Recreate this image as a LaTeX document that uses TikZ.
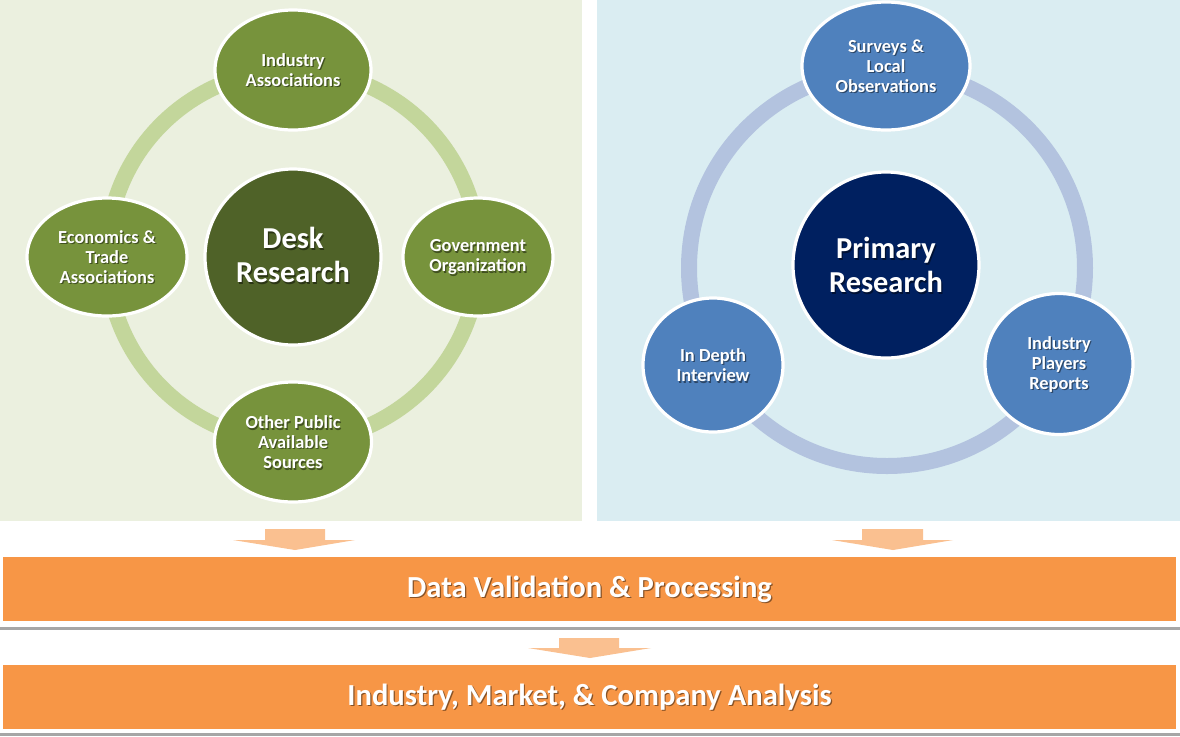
\documentclass[tikz,border=0pt]{standalone}
\usepackage{fontspec}
\setmainfont{Carlito}
\usetikzlibrary{shapes.geometric}
\definecolor{lgbg}{HTML}{EBF0DF}
\definecolor{lbbg}{HTML}{DAEDF2}
\definecolor{gring}{HTML}{C3D69B}
\definecolor{gnode}{HTML}{77933C}
\definecolor{gcenter}{HTML}{4F6228}
\definecolor{bring}{HTML}{B3C3DF}
\definecolor{bnode}{HTML}{4F81BD}
\definecolor{bcenter}{HTML}{002060}
\definecolor{barorange}{HTML}{F79646}
\definecolor{arrorange}{HTML}{FAC090}
\newcommand\shtxt[3]{%
  \node[txt,#3,text=black,opacity=.45] at ([shift={(1.2,1.6)}]#1) {#2};%
  \node[txt,#3] at (#1) {#2};}
\tikzset{
  blob/.style={ellipse, draw=white, line width=1.6pt, inner sep=0pt},
  gsat/.style={blob, fill=gnode},
  bsat/.style={blob, fill=bnode},
  txt/.style={text=white, align=center, font=\bfseries\fontsize{9.2}{10}\selectfont},
  bigtxt/.style={font=\bfseries\fontsize{15.2}{17}\selectfont},
  bartxt/.style={font=\bfseries\fontsize{15.3}{17}\selectfont},
  ring/.style={line width=8pt},
  bar/.style={rectangle, fill=barorange, minimum width=586.5pt, minimum height=32pt, inner sep=0pt},
  blockarrow/.style={fill=arrorange}
}
\begin{document}
\begin{tikzpicture}[x=0.5pt,y=-0.5pt]
\useasboundingbox (0,0) rectangle (1180,736);
\fill[white] (0,0) rectangle (1180,736);
% panels
\fill[lgbg] (0,0) rectangle (582,521);
\fill[lbbg] (597,0) rectangle (1180,521);
% rings
\coordinate (dc) at (293,256);
\coordinate (pc) at (887,268);
\draw[gring, ring] (dc) circle [radius=93pt];
\draw[bring, ring] (pc) circle [radius=99pt];
% desk research nodes
\node[blob, fill=gcenter, minimum width=88pt, minimum height=88pt] (desk) at (293,257) {};
\node[gsat, minimum width=78pt, minimum height=60pt] (dtop) at (293,70) {};
\node[gsat, minimum width=80pt, minimum height=59pt] (dleft) at (107,257) {};
\node[gsat, minimum width=75pt, minimum height=59pt] (dright) at (478,257) {};
\node[gsat, minimum width=78.5pt, minimum height=60pt] (dbot) at (293,442) {};
\shtxt{desk}{Desk\\Research}{bigtxt,yshift=1pt}
\shtxt{dtop}{Industry\\Associations}{}
\shtxt{dleft}{Economics \&\\Trade\\Associations}{}
\shtxt{dright}{Government\\Organization}{}
\shtxt{dbot}{Other Public\\Available\\Sources}{}
% primary research nodes
\node[blob, fill=bcenter, minimum width=93pt, minimum height=93pt] (prim) at (886,265) {};
\node[bsat, minimum width=84pt, minimum height=64pt] (ptop) at (886,66) {};
\node[bsat, minimum width=70pt, minimum height=67pt] (pleft) at (713,365) {};
\node[bsat, minimum width=74pt, minimum height=70.5pt] (pright) at (1059,364) {};
\shtxt{prim}{Primary\\Research}{bigtxt}
\shtxt{ptop}{Surveys \&\\Local\\Observations}{}
\shtxt{pleft}{In Depth\\Interview}{}
\shtxt{pright}{Industry\\Players\\Reports}{}
% block arrows
\fill[blockarrow] (265,529) -- (325,529) -- (325,540) -- (355,540) -- (295,550) -- (233,540) -- (265,540) -- cycle;
\fill[blockarrow] (862,529) -- (923,529) -- (923,540) -- (953,540) -- (893,550) -- (832,540) -- (862,540) -- cycle;
\fill[blockarrow] (559,638) -- (619,638) -- (619,648) -- (651,648) -- (590,658) -- (528,648) -- (559,648) -- cycle;
% bars
\draw[black!35, line width=1.5pt] (0,628.5) -- (1180,628.5);
\draw[black!35, line width=1.5pt] (0,734.5) -- (1180,734.5);
\node[bar] (valid) at (589.5,589) {};
\node[bar] (analysis) at (589.5,697) {};
\shtxt{valid}{Data Validation \& Processing}{bartxt}
\shtxt{analysis}{Industry, Market, \& Company Analysis}{bartxt}
\end{tikzpicture}
\end{document}
